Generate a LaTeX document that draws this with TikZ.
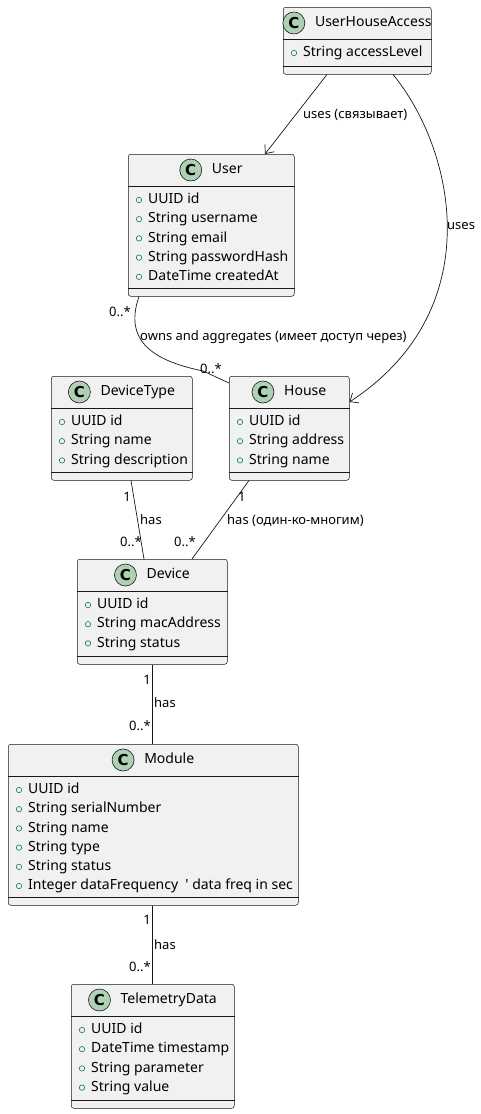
\documentclass[tikz,border=0pt]{standalone}
\usepackage{fontspec}
\setmainfont{Noto Sans}
\newfontfamily\markfont{DejaVu Sans}
\usetikzlibrary{arrows.meta}

\definecolor{boxfill}{HTML}{F1F1F1}
\definecolor{lineclr}{HTML}{181818}
\definecolor{circfill}{HTML}{ADD1B2}
\definecolor{pubgreen}{HTML}{038048}

% name, left, top, right, bottom, title, attributes
\newcommand{\umlclass}[7]{%
  \node[classbox, minimum width={#4-#2}, minimum height={#5-#3}] (#1) at (#2,#3) {};
  \draw[sepline] ([yshift=-32pt]#1.north west) -- ([yshift=-32pt]#1.north east);
  \draw[sepline] ([yshift=8pt]#1.south west) -- ([yshift=8pt]#1.south east);
  \node[ctitle] (#1-t) at ([xshift=16pt,yshift=-16pt]#1.north) {#6};
  \node[cmark] (#1-c) at ([xshift=-21pt]#1-t.west) {C};
  \foreach \a [count=\i] in {#7} {
    \node[attr] (#1-a\i) at ([xshift=20pt,yshift={-46-(\i-1)*19.2}]#1.north west) {\a};
    \node[pub] (#1-b\i) at ([xshift=-9pt]#1-a\i.west) {};
  }
}

\begin{document}
\begin{tikzpicture}[x=1pt,y=-1pt,>=Straight Barb,
  classbox/.style={draw=lineclr,fill=boxfill,rounded corners=2.5pt,line width=0.5pt,anchor=north west,inner sep=0pt},
  sepline/.style={draw=lineclr,line width=0.5pt},
  ctitle/.style={inner sep=0pt,font=\fontsize{14}{16}\selectfont,text height=10pt,text depth=3pt},
  cmark/.style={circle,draw=lineclr,fill=circfill,line width=0.6pt,minimum size=22pt,inner sep=0pt,font=\markfont\fontsize{15}{15}\selectfont\bfseries},
  attr/.style={anchor=west,inner sep=0pt,font=\fontsize{14}{16}\selectfont,text height=10.5pt,text depth=3pt},
  pub/.style={circle,draw=pubgreen,line width=0.6pt,minimum size=5.4pt,inner sep=0pt},
  assoc/.style={draw=lineclr,line width=0.7pt},
  uses/.style={assoc,-{Straight Barb[length=7pt,width=12pt]}},
  lbl/.style={inner sep=0pt,font=\fontsize{13}{15}\selectfont,text height=9.5pt,text depth=3pt}]

  \fill[white] (0,0) rectangle (481,1114);
  \useasboundingbox (0,0) rectangle (481,1114);

  % classes
  \umlclass{uha}{283}{7}{431}{74}{UserHouseAccess}{String accessLevel}
  \umlclass{user}{128}{154}{294}{296}{User}{UUID id,String username,String email,String passwordHash,DateTime createdAt}
  \umlclass{dtype}{51}{376}{192}{480}{DeviceType}{UUID id,String name,String description}
  \umlclass{house}{229}{376}{349}{480}{House}{UUID id,String address,String name}
  \umlclass{device}{77}{559}{227}{664}{Device}{UUID id,String macAddress,String status}
  \umlclass{module}{8}{744}{298}{905}{Module}{UUID id,String serialNumber,String name,String type,String status,Integer dataFrequency\ \ \textquotesingle\ data freq in sec}
  \umlclass{tdata}{71}{984}{234}{1108}{TelemetryData}{UUID id,DateTime timestamp,String parameter,String value}

  % associations
  \draw[uses] ([xshift=44pt]uha.south west) -- ([xshift=137pt]user.north west);
  \draw[uses] ([xshift=110pt]uha.south west) .. controls (455,150) and (490,310) .. ([yshift=-26pt]house.north east);
  \draw[assoc] ([xshift=11pt]user.south west) .. controls (122,345) and (160,362) .. (203,371) -- ([yshift=-7pt]house.north west);
  \draw[assoc] ([xshift=80pt]dtype.south west) -- ([xshift=67pt]device.north west);
  \draw[assoc] ([xshift=20pt]house.south west) -- ([xshift=115pt]device.north west);
  \draw[assoc] ([xshift=75pt]device.south west) -- ([xshift=144pt]module.north west);
  \draw[assoc] ([xshift=144pt]module.south west) -- ([xshift=81pt]tdata.north west);

  % labels
  \node[lbl,anchor=west] (l-uses1) at (303,115) {uses (связывает)};
  \node[lbl,anchor=west] (l-uses2) at (447,226) {uses};
  \node[lbl,anchor=east] (l-own1) at (131,313) {0..*};
  \node[lbl,anchor=west] (l-own) at (140,337) {owns and aggregates (имеет доступ через)};
  \node[lbl,anchor=west] (l-own2) at (200,370) {0..*};
  \node[lbl,anchor=east] (l-dt1) at (131,498) {1};
  \node[lbl,anchor=west] (l-dt) at (140,521) {has};
  \node[lbl,anchor=east] (l-dt2) at (142,543) {0..*};
  \node[lbl,anchor=west] (l-h1) at (238,498) {1};
  \node[lbl,anchor=west] (l-h) at (227,521) {has (один-ко-многим)};
  \node[lbl,anchor=east] (l-h2) at (196,543) {0..*};
  \node[lbl,anchor=east] (l-d1) at (151,681) {1};
  \node[lbl,anchor=west] (l-d) at (154,704) {has};
  \node[lbl,anchor=east] (l-d2) at (151,727) {0..*};
  \node[lbl,anchor=east] (l-m1) at (151,921) {1};
  \node[lbl,anchor=west] (l-m) at (154,946) {has};
  \node[lbl,anchor=east] (l-m2) at (151,968) {0..*};
\end{tikzpicture}
\end{document}
